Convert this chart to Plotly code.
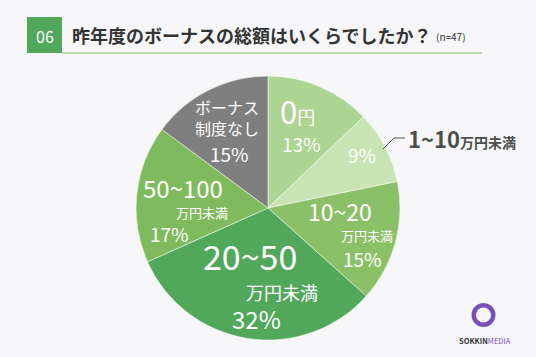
import plotly.graph_objects as go

W, H = 536, 357

categories = ["0円", "1~10万円未満", "10~20万円未満", "20~50万円未満", "50~100万円未満", "ボーナス制度なし"]
percent = [13, 9, 15, 32, 17, 15]
colors = ["#acd492", "#c8e3b4", "#8cc068", "#52a85a", "#7fbb5e", "#7f7f80"]

title_text = "昨年度のボーナスの総額はいくらでしたか？"
n_text = "(n=47)"
num_text = "06"

FONT = "Noto Sans CJK JP"

def px(x):
    return x / W

def py(y):
    return 1 - y / H

cx, cy, r = 268, 208, 132

fig = go.Figure(go.Pie(
    labels=categories,
    values=percent,
    sort=False,
    direction="clockwise",
    rotation=0,
    marker=dict(colors=colors, line=dict(color="rgba(255,255,255,0.5)", width=1)),
    textinfo="none",
    hoverinfo="label+percent",
    domain=dict(x=[px(cx - r), px(cx + r)], y=[py(cy + r), py(cy - r)]),
    showlegend=False,
))

ann = []
def T(x, y, text, size, color="white", anchor="center", weight=400, align="center"):
    ann.append(dict(x=px(x), y=py(y), xref="paper", yref="paper", text=text,
                    showarrow=False, xanchor=anchor, yanchor="middle", align=align,
                    borderpad=0,
                    font=dict(family=FONT, size=size, color=color, weight=weight)))

# slice labels
T(279, 110, "<span style='font-size:31px'>0</span>円", 18, anchor="left")
T(301, 143, f"{percent[0]}%", 19)
T(362, 154, f"{percent[1]}%", 19)
T(407, 138, "<span style='font-size:22px'>1~10</span>万円未満", 14, color="#4d4d4d", anchor="left", weight=700)
T(340, 211, "10~20", 23)
T(367, 235, "万円未満", 13)
T(362, 258, f"{percent[2]}%", 19)
T(250, 255, "20~50", 34)
T(282, 292, "万円未満", 18)
T(256, 318, f"{percent[3]}%", 24)
T(183, 187, "50~100", 24)
T(202, 212, "万円未満", 13)
T(169, 233, f"{percent[4]}%", 19)
T(227, 117.5, "ボーナス<br>制度なし", 16)
T(229, 153, f"{percent[5]}%", 19)

# header
T(44.5, 36, num_text, 16)
T(71, 35, f"<b>{title_text}</b>", 18, color="#333333", anchor="left")
T(435, 37, n_text, 10, color="#333333", anchor="left")

# logo text
T(484.5, 340.5, "<b><span style='color:#333333'>SOKKIN</span></b><span style='color:#7b4fb8'>MEDIA</span>", 7.5)

lr = 9.75
shapes = [
    dict(type="rect", xref="paper", yref="paper", x0=px(27), x1=px(62), y0=py(53), y1=py(17),
         fillcolor="#52a85a", line=dict(width=0)),
    dict(type="line", xref="paper", yref="paper", x0=px(62), x1=px(482), y0=py(53), y1=py(53),
         line=dict(color="#a9d18e", width=1.5)),
    dict(type="path", xref="paper", yref="paper",
         path=f"M {px(383)} {py(149)} L {px(394)} {py(138)} L {px(405)} {py(138)}",
         line=dict(color="#555555", width=1)),
    dict(type="circle", xref="paper", yref="paper", x0=px(483.5 - lr), x1=px(483.5 + lr),
         y0=py(315 + lr), y1=py(315 - lr),
         line=dict(color="#7b4fb8", width=4.5)),
]

fig.update_layout(
    width=W, height=H,
    margin=dict(l=0, r=0, t=0, b=0),
    paper_bgcolor="#f7f7f9",
    plot_bgcolor="#f7f7f9",
    annotations=ann,
    shapes=shapes,
    font=dict(family=FONT),
)

fig.write_html("out.html")
